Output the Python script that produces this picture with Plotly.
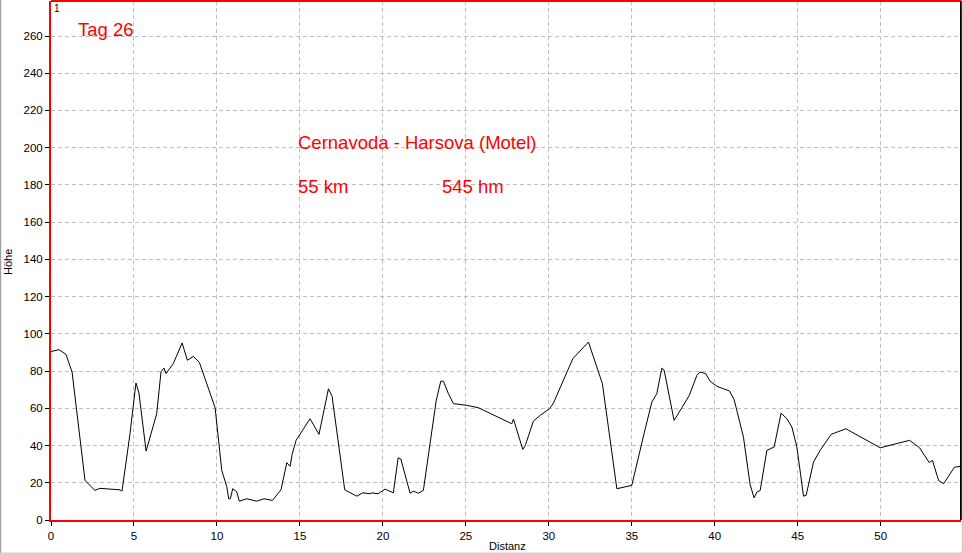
import plotly.graph_objects as go

distanz_km = [0.0, 0.06, 0.48, 0.9, 1.27, 2.05, 2.65, 2.95, 4.16, 4.28, 4.76, 5.12, 5.3, 5.73, 6.37,
              6.63, 6.81, 6.93, 7.37, 7.9, 8.22, 8.58, 8.94, 9.89, 10.29, 10.59, 10.71, 10.81, 10.95,
              11.19, 11.35, 11.79, 12.4, 12.84, 13.34, 13.86, 14.21, 14.41, 14.53, 14.77, 15.61,
              16.15, 16.72, 16.94, 17.7, 18.43, 18.79, 19.23, 19.35, 19.71, 20.13, 20.63, 20.92,
              21.08, 21.64, 21.84, 22.14, 22.44, 23.21, 23.49, 23.65, 23.95, 24.25, 25.06, 25.76,
              27.06, 27.77, 27.87, 28.43, 28.58, 29.07, 29.48, 30.04, 30.28, 31.45, 32.39, 33.23,
              34.1, 35.0, 35.74, 36.21, 36.51, 36.81, 36.95, 37.55, 38.02, 38.47, 38.92, 39.12,
              39.46, 39.72, 40.13, 40.89, 41.17, 41.73, 42.13, 42.37, 42.54, 42.74, 43.14, 43.58,
              44.0, 44.35, 44.65, 44.95, 45.35, 45.51, 45.95, 46.35, 47.02, 47.86, 47.9, 49.97,
              51.74, 52.34, 52.92, 53.12, 53.49, 53.79, 54.45, 54.79, 54.84]
hoehe_m = [90.6, 90.6, 91.5, 89.0, 79.5, 21.2, 15.9, 17.0, 16.2, 15.5, 46.3, 73.6, 68.2, 37.0, 57.1,
           79.7, 81.6, 78.6, 84.0, 95.1, 85.8, 87.9, 84.7, 60.3, 26.6, 18.0, 11.4, 11.4, 16.8,
           15.2, 10.1, 11.4, 10.1, 11.4, 10.5, 16.2, 30.8, 28.8, 35.2, 42.8, 54.4,
           46.0, 70.5, 66.4, 16.2, 12.8, 14.6, 14.1, 14.6, 14.1, 16.6, 14.6, 33.4,
           32.8, 14.4, 15.5, 14.4, 15.9, 63.9, 74.6, 74.5, 67.9, 62.5, 61.6, 60.3,
           55.0, 51.7, 54.2, 37.9, 40.0, 53.1, 56.2, 59.8, 62.8, 86.7, 95.6, 73.2,
           16.8, 18.6, 46.4, 63.4, 67.9, 81.6, 80.5, 53.5, 60.3, 67.0, 77.7, 79.5,
           78.6, 74.6, 71.8, 69.3, 64.6, 44.5, 19.1, 11.9, 15.0, 15.9, 37.4, 39.2,
           57.4, 54.4, 49.9, 39.2, 12.8, 13.3, 31.1, 37.4, 46.0, 48.7, 49.0, 38.8,
           42.8, 38.8, 30.9, 32.0, 21.2, 19.5, 28.4, 28.8, 28.8]

x_ticks = [0, 5, 10, 15, 20, 25, 30, 35, 40, 45, 50]
y_ticks = [0, 20, 40, 60, 80, 100, 120, 140, 160, 180, 200, 220, 240, 260]

x_title = "Distanz"
y_title = "Höhe"
title_text = "Tag 26"
route_text = "Cernavoda - Harsova (Motel)"
dist_text = "55 km"
hm_text = "545 hm"

X_MAX = 54.84
Y_MAX = 278.8

PW, PH = 910, 519  # plot area size in px

fig = go.Figure()
fig.add_trace(go.Scatter(x=distanz_km, y=hoehe_m, mode="lines",
                         line=dict(color="black", width=1), hoverinfo="skip",
                         showlegend=False))

font = "Liberation Sans, Arial, sans-serif"


def ann(text, px, py, size, color="red", xanchor="left", yanchor="middle", angle=0):
    return dict(text=text, x=px / PW, y=1 - py / PH, xref="paper", yref="paper",
                xanchor=xanchor, yanchor=yanchor, showarrow=False, textangle=angle,
                font=dict(color=color, size=size, family=font))


def pline(x0, y0, x1, y1, color, width):
    return dict(type="line", xref="paper", yref="paper",
                x0=x0 / PW, x1=x1 / PW, y0=1 - y0 / PH, y1=1 - y1 / PH,
                line=dict(color=color, width=width))


fig.update_layout(
    width=963, height=554,
    margin=dict(l=51, r=2, t=1, b=34),
    paper_bgcolor="white", plot_bgcolor="white",
    font=dict(family=font, color="black", size=11),
    xaxis=dict(range=[0, X_MAX], tickvals=x_ticks, ticktext=[str(v) for v in x_ticks],
               showgrid=True, gridcolor="#c0c0c0", griddash="4px,3px", gridwidth=1,
               zeroline=False, showline=True, linecolor="red", linewidth=2,
               ticks="outside", ticklen=4, tickcolor="black", automargin=False,
               tickfont=dict(size=11.5, family=font)),
    yaxis=dict(range=[0, Y_MAX], tickvals=y_ticks, ticktext=[str(v) for v in y_ticks],
               showgrid=True, gridcolor="#c0c0c0", griddash="4px,3px", gridwidth=1,
               zeroline=False, showline=True, linecolor="red", linewidth=2,
               ticks="outside", ticklen=4, tickcolor="black", automargin=False,
               tickfont=dict(size=11.5, family=font)),
    shapes=[
        pline(0, 0, PW, 0, "red", 2),
        pline(PW, 0, PW, PH, "black", 2),
        pline(-50.5, -1, -50.5, 553, "#a0a0a0", 1.5),
        pline(-51, 552.5, PW + 2, 552.5, "#d4d0c8", 2),
        pline(PW + 1.5, -1, PW + 1.5, 553, "#d4d0c8", 1.5),
    ],
    annotations=[
        ann(title_text, 25, 29, 18.5),
        ann(route_text, 245, 141, 18.5),
        ann(dist_text, 245, 186, 18.5),
        ann(hm_text, 389, 186, 18.5),
        ann("1", 0.5, 0, 10, color="black", yanchor="top"),
        ann(x_title, 456, 545, 11, color="black", xanchor="center"),
        ann(y_title, -43, 261, 11, color="black", xanchor="center", angle=-90),
    ],
)

fig.write_html("out.html", config={"displayModeBar": False, "staticPlot": True},
               post_script="document.body.style.margin='0px';document.body.style.overflow='hidden';")
